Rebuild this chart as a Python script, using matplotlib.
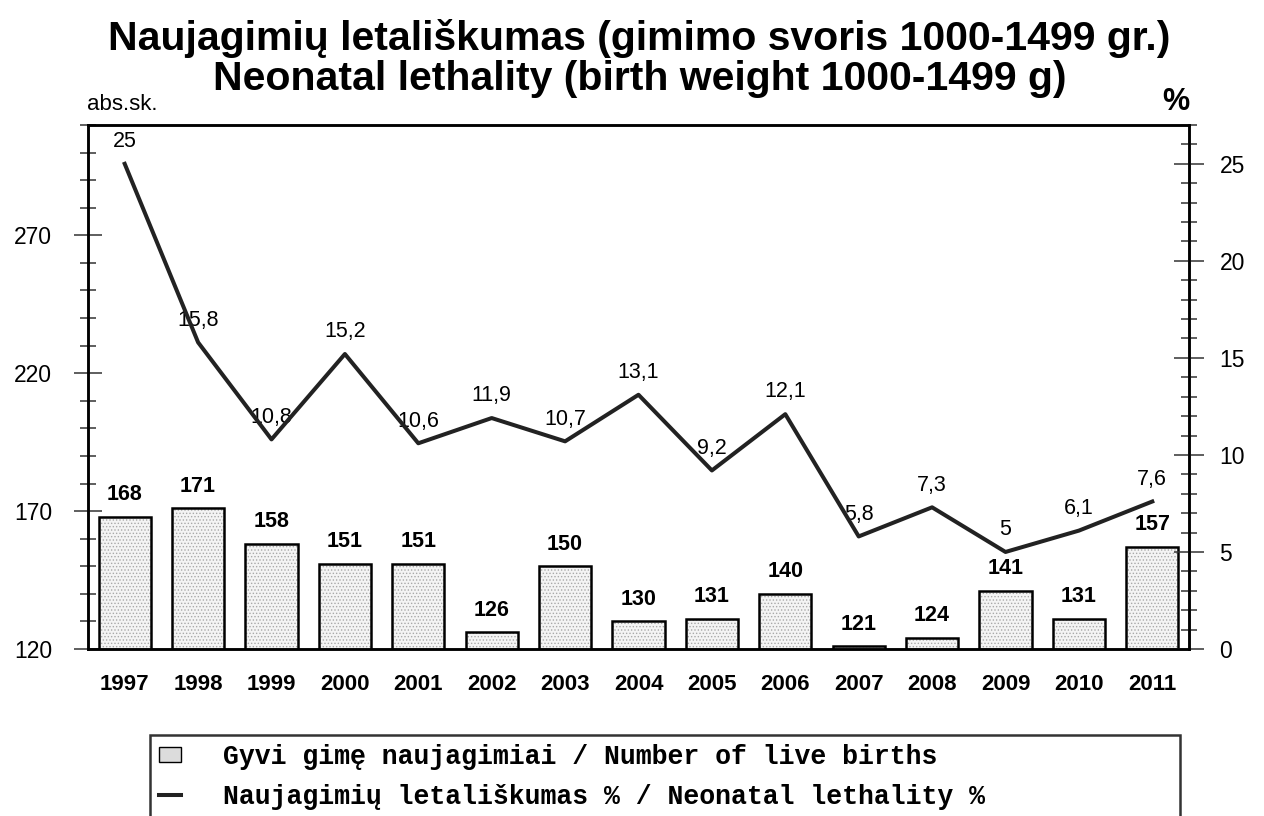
import numpy as np
import matplotlib
matplotlib.use('Agg')
import matplotlib.pyplot as plt
from matplotlib.ticker import MultipleLocator
from matplotlib.patches import Patch
from matplotlib.lines import Line2D

# duomenys
metai = ['1997', '1998', '1999', '2000', '2001', '2002', '2003', '2004',
         '2005', '2006', '2007', '2008', '2009', '2010', '2011']
gyvi_gime = [168, 171, 158, 151, 151, 126, 150, 130, 131, 140, 121, 124, 141, 131, 157]
letaliskumas = [25, 15.8, 10.8, 15.2, 10.6, 11.9, 10.7, 13.1, 9.2, 12.1, 5.8, 7.3, 5, 6.1, 7.6]

plt.rcParams['font.family'] = ['Liberation Sans', 'DejaVu Sans']
plt.rcParams['hatch.linewidth'] = 0.6

W, H = 1264, 816
fig = plt.figure(figsize=(W / 100, H / 100), dpi=100)
ax = fig.add_axes([88 / W, 1 - 649 / H, (1189 - 88) / W, (649 - 125) / H])

x = np.arange(len(metai))
# stulpeliai: taskuotas uzpildas + juodas kontūras
ax.bar(x, gyvi_gime, width=0.71, color='#f4f4f4', edgecolor='#a8a8a8',
       linewidth=0, hatch='.....', zorder=2)
ax.bar(x, gyvi_gime, width=0.71, fill=False, edgecolor='black',
       linewidth=1.8, zorder=3)
for i, v in enumerate(gyvi_gime):
    ax.annotate(str(v), (i, v), xytext=(0, 16), textcoords='offset points',
                ha='center', va='center', fontsize=15.5, weight='bold')

ax.set_xlim(-0.5, len(metai) - 0.5)
ax.set_ylim(120, 310)
ax.set_xticks(x)
ax.set_xticklabels(metai, fontsize=16, weight='bold')
ax.tick_params(axis='x', length=0, pad=18)
ax.yaxis.set_minor_locator(MultipleLocator(10))
ax.set_yticks([120, 170, 220, 270])
ax.tick_params(axis='y', which='major', direction='inout', length=20,
               width=1.1, color='#333333', labelsize=16.5, pad=16)
ax.tick_params(axis='y', which='minor', direction='inout', length=11.5,
               width=1.1, color='#333333')

# antra asis - letaliskumas %
ax2 = ax.twinx()
ax2.plot(x, letaliskumas, color='#222222', linewidth=2.9, zorder=4)
for i, v in enumerate(letaliskumas):
    ax2.annotate(f'{v:g}'.replace('.', ','), (i, v), xytext=(0, 16),
                 textcoords='offset points', ha='center', va='center', fontsize=15.5)
ax2.set_ylim(0, 27)
ax2.yaxis.set_major_locator(MultipleLocator(5))
ax2.yaxis.set_minor_locator(MultipleLocator(1))
ax2.tick_params(axis='y', which='major', direction='inout', length=22,
                width=1.1, color='#333333', labelsize=16.5, pad=11)
ax2.tick_params(axis='y', which='minor', direction='inout', length=11.5,
                width=1.1, color='#333333')

for a in (ax, ax2):
    for s in a.spines.values():
        s.set_linewidth(1.8)

fig.text(0.506, 1 - 38 / H, 'Naujagimių letališkumas (gimimo svoris 1000-1499 gr.)',
         ha='center', va='center', fontsize=29.5, weight='bold')
fig.text(0.506, 1 - 79 / H, 'Neonatal lethality (birth weight 1000-1499 g)',
         ha='center', va='center', fontsize=29.5, weight='bold')
fig.text(87 / W, 1 - 104 / H, 'abs.sk.', ha='left', va='center', fontsize=16)
fig.text(1176 / W, 1 - 102 / H, '%', ha='center', va='center', fontsize=22, weight='bold')

handles = [Patch(facecolor='#dcdcdc', edgecolor='black', linewidth=1),
           Line2D([], [], color='#222222', linewidth=2.9)]
labels = ['Gyvi gimę naujagimiai / Number of live births',
          'Naujagimių letališkumas % / Neonatal lethality %']
leg = fig.legend(handles, labels, loc='upper left',
                 bbox_to_anchor=(150 / W, 0, (1180 - 150) / W, 1 - 735 / H),
                 mode='expand', prop={'family': 'Liberation Mono', 'weight': 'bold', 'size': 19.1},
                 frameon=True, fancybox=False, borderaxespad=0, handlelength=0.8,
                 handleheight=0.5, handletextpad=1.6, borderpad=0.35, labelspacing=0.5)
leg.get_frame().set_edgecolor('black')
leg.get_frame().set_linewidth(1.8)

fig.savefig('out.png', dpi=100)
